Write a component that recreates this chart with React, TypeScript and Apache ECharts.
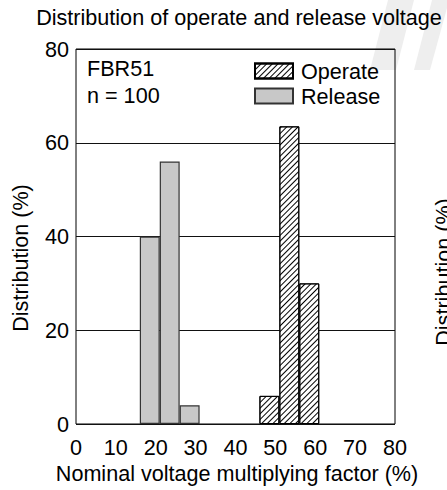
import React, { useEffect, useRef } from "react";
import * as echarts from "echarts";

const X_TICKS_MIN = 0;
const X_TICKS_MAX = 80;
const X_INTERVAL = 10;
const Y_MIN = 0;
const Y_MAX = 80;
const Y_INTERVAL = 20;
const BIN_WIDTH = 5;

const releaseBinStarts = [16, 21, 26];
const releaseValues = [40, 56, 4];
const operateBinStarts = [46, 51, 56];
const operateValues = [6, 63.5, 30];

const TITLE = "Distribution of operate and release voltage";
const X_NAME = "Nominal voltage multiplying factor (%)";
const Y_NAME = "Distribution (%)";
const MODEL = "FBR51";
const SAMPLE = "n = 100";
const SERIES_NAMES = ["Operate", "Release"];

const FONT = "'Liberation Sans', Arial, sans-serif";
const FS = 21.6;

export default function App() {
  const ref = useRef<HTMLDivElement>(null);
  useEffect(() => {
    if (!ref.current) return;
    const chart = echarts.init(ref.current, undefined, { renderer: "svg" });
    const W = 447;
    const gridLeft = 76;
    const gridRight = 52;
    const gridW = W - gridLeft - gridRight;
    const barW = (gridW / (X_TICKS_MAX - X_TICKS_MIN)) * BIN_WIDTH;

    const releaseData = releaseBinStarts.map((s, i) => [s + BIN_WIDTH / 2, releaseValues[i]]);
    const operateData = operateBinStarts.map((s, i) => [s + BIN_WIDTH / 2, operateValues[i]]);

    chart.setOption({
      animation: false,
      backgroundColor: "#fff",
      textStyle: { fontFamily: FONT },
      grid: {
        left: gridLeft,
        right: gridRight,
        top: 49,
        bottom: 66,
        show: true,
        borderColor: "#000",
        borderWidth: 1,
        backgroundColor: "transparent",
      },
      legend: {
        data: SERIES_NAMES,
        orient: "vertical",
        left: 254,
        top: 60,
        padding: 0,
        itemWidth: 38,
        itemHeight: 15,
        itemGap: 3,
        icon: "rect",
        textStyle: { fontSize: FS, color: "#000", fontFamily: FONT, lineHeight: 21, padding: [0, 0, 0, 3] },
      },
      xAxis: {
        type: "value",
        min: X_TICKS_MIN,
        max: X_TICKS_MAX,
        interval: X_INTERVAL,
        axisLine: { show: false },
        axisTick: { show: false },
        splitLine: { show: false },
        axisLabel: { fontSize: FS, color: "#000", margin: 12, fontFamily: FONT },
      },
      yAxis: {
        type: "value",
        min: Y_MIN,
        max: Y_MAX,
        interval: Y_INTERVAL,
        axisLine: { show: false },
        axisTick: { show: false },
        splitLine: { show: true, lineStyle: { color: "#111", width: 1 } },
        axisLabel: { fontSize: FS, color: "#000", margin: 7, fontFamily: FONT },
      },
      series: [
        {
          name: SERIES_NAMES[0],
          type: "bar",
          data: operateData,
          barWidth: barW,
          barGap: "-100%",
          itemStyle: {
            color: "#fff",
            borderColor: "#000",
            borderWidth: 1,
            decal: {
              symbol: "rect",
              symbolSize: 1,
              color: "#000",
              dashArrayX: [1, 0],
              dashArrayY: [1, 3],
              rotation: -Math.PI / 4,
            },
          },
          z: 3,
        },
        {
          name: SERIES_NAMES[1],
          type: "bar",
          data: releaseData,
          barWidth: barW,
          barGap: "-100%",
          itemStyle: { color: "#c8c8c8", borderColor: "#333", borderWidth: 1.2 },
          z: 3,
        },
      ],
      graphic: [
        {
          type: "polygon",
          z: -10,
          silent: true,
          shape: { points: [[388, 0], [414, 0], [396, 70], [370, 70]] },
          style: { fill: "#eeeeee" },
        },
        {
          type: "polygon",
          z: -10,
          silent: true,
          shape: { points: [[432, 0], [447, 0], [447, 8], [430, 70], [414, 70]] },
          style: { fill: "#eeeeee" },
        },
        {
          type: "text",
          x: 239,
          y: 17,
          style: { text: TITLE, fontSize: FS, fontFamily: FONT, fill: "#000", align: "center", verticalAlign: "middle" },
        },
        {
          type: "text",
          x: 237,
          y: 473,
          style: { text: X_NAME, fontSize: FS, fontFamily: FONT, fill: "#000", align: "center", verticalAlign: "middle" },
        },
        {
          type: "text",
          x: 20,
          y: 258,
          rotation: Math.PI / 2,
          style: { text: Y_NAME, fontSize: FS, fontFamily: FONT, fill: "#000", align: "center", verticalAlign: "middle" },
        },
        {
          type: "text",
          x: 443,
          y: 272,
          rotation: Math.PI / 2,
          style: { text: Y_NAME, fontSize: FS, fontFamily: FONT, fill: "#000", align: "center", verticalAlign: "middle" },
        },
        {
          type: "text",
          x: 87,
          y: 68,
          style: { text: MODEL, fontSize: FS, fontFamily: FONT, fill: "#000", align: "left", verticalAlign: "middle" },
        },
        {
          type: "text",
          x: 87,
          y: 95,
          style: { text: SAMPLE, fontSize: FS, fontFamily: FONT, fill: "#000", align: "left", verticalAlign: "middle" },
        },
      ],
    });
    return () => chart.dispose();
  }, []);
  return <div ref={ref} style={{ width: 447, height: 490, position: "absolute", left: 0, top: 0 }} />;
}
